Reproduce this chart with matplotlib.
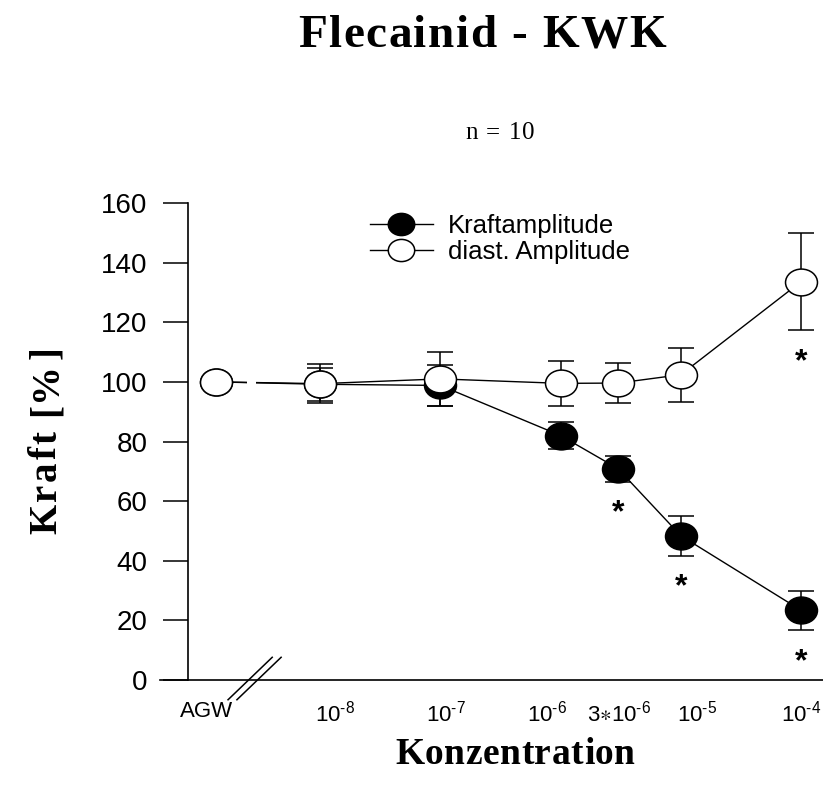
import numpy as np
import matplotlib
matplotlib.use('Agg')
import matplotlib.pyplot as plt
from matplotlib.path import Path
from matplotlib.transforms import Affine2D, ScaledTranslation
from matplotlib.lines import Line2D
from matplotlib.font_manager import FontProperties, findfont
from matplotlib.ft2font import FT2Font

plt.rcParams['mathtext.fontset'] = 'custom'
plt.rcParams['mathtext.rm'] = 'Liberation Sans'
plt.rcParams['mathtext.it'] = 'Liberation Sans:italic'
plt.rcParams['mathtext.bf'] = 'Liberation Sans:bold'

# ---------------- data ----------------
concentrations = [1e-8, 1e-7, 1e-6, 3e-6, 1e-5, 1e-4]
agw_position = -8.87          # position of control (AGW) on broken log axis
break_position = -8.57        # axis break position
tick_labels = ['AGW', r'$\mathregular{10^{\text{-}8}}$', r'$\mathregular{10^{\text{-}7}}$',
               r'$\mathregular{10^{\text{-}6}}$', r'$\mathregular{3{\ast}10^{\text{-}6}}$',
               r'$\mathregular{10^{\text{-}5}}$', r'$\mathregular{10^{\text{-}4}}$']
tick_label_nudge_px = [-9, 15, 6, -14, 1, 16, 0]

kraft = [100, 99.2, 98.8, 82.0, 70.9, 48.4, 23.4]
kraft_err = [0, 5.5, 6.8, 4.4, 4.4, 6.7, 6.6]
kraft_sig = [False, False, False, False, True, True, True]

diast = [100, 99.4, 101.0, 99.5, 99.6, 102.4, 133.6]
diast_err = [0, 6.6, 9.1, 7.5, 6.6, 9.1, 16.2]
diast_sig = [False, False, False, False, False, False, True]

legend_labels = ['Kraftamplitude', 'diast. Amplitude']
title = 'Flecainid - KWK'
subtitle = 'n = 10'
xlabel = 'Konzentration'
ylabel = 'Kraft [%]'

x = np.array([agw_position] + [np.log10(c) for c in concentrations])

W, H = 823, 790
fig = plt.figure(figsize=(W/100, H/100), dpi=100)


def tracked_text(s, x_px, y_px, size, track_px, family, weight='normal', rotation=0):
    """Draw text with extra letter spacing; (x_px, y_px) = centre of run, baseline."""
    fp = FontProperties(family=family, weight=weight, size=size)
    font = FT2Font(findfont(fp))
    font.set_size(size, fig.dpi)
    adv = [font.load_char(ord(c)).linearHoriAdvance / 65536.0 for c in s]
    total = sum(adv) + track_px * (len(s) - 1)
    pos = -total / 2
    for c, a in zip(s, adv):
        if c != ' ':
            if rotation == 0:
                fig.text((x_px + pos) / W, 1 - y_px / H, c, ha='left', va='baseline',
                         fontproperties=fp)
            else:
                fig.text(x_px / W, 1 - (y_px - pos) / H, c, ha='left', va='baseline',
                         rotation=90, rotation_mode='anchor', fontproperties=fp)
        pos += a + track_px


# ---------------- axes ----------------
ax = fig.add_axes([160/W, 1-680/H, 1-160/W, (680-203)/H])
ax.set_xlim(-9.333, -3.817)
ax.set_ylim(0, 160)

ellipse = Path(Affine2D().scale(1.0, 0.84).transform(Path.unit_circle().vertices),
               Path.unit_circle().codes)
ms = 23
mew = 1.1

# filled series
ax.plot(x, kraft, '-', color='black', lw=1.0, zorder=2)
ax.errorbar(x, kraft, yerr=kraft_err, fmt='none', ecolor='black', elinewidth=1.1,
            capsize=9.5, capthick=1.1, zorder=2.6)
ax.plot(x, kraft, linestyle='none', marker=ellipse, ms=ms, mfc='black', mec='black',
        mew=mew, zorder=3)

# open series
ax.plot(x, diast, '-', color='black', lw=1.0, zorder=3.1)
ax.errorbar(x, diast, yerr=diast_err, fmt='none', ecolor='black', elinewidth=1.1,
            capsize=9.5, capthick=1.1, zorder=3.2)
ax.plot(x, diast, linestyle='none', marker=ellipse, ms=ms, mfc='white', mec='black',
        mew=mew, zorder=3.3)

# gap in connecting lines at the axis break
ax.fill_between([break_position - 0.036, break_position + 0.036], 95, 105,
                color='white', lw=0, zorder=3.15)

# significance stars
star_off = ScaledTranslation(0, -40/100, fig.dpi_scale_trans)
for ys, es, sig in [(kraft, kraft_err, kraft_sig), (diast, diast_err, diast_sig)]:
    for xi, yi, ei, s in zip(x, ys, es, sig):
        if s:
            ax.text(xi, yi - ei, '*', ha='center', va='baseline', fontsize=23,
                    fontweight='bold', family='Liberation Sans',
                    transform=ax.transData + star_off)

# axis break marks
brk = Path([(-25.3, -20), (20.5, 24), (-16.3, -20), (29.5, 24)],
           [Path.MOVETO, Path.LINETO, Path.MOVETO, Path.LINETO])
ax.plot([break_position], [0], linestyle='none', marker=brk, ms=42, mec='black',
        mew=1.1, clip_on=False, zorder=5)

# spines / ticks
for sp in ['top', 'right']:
    ax.spines[sp].set_visible(False)
ax.spines['left'].set_position(('data', -9.1))
ax.spines['left'].set_bounds(0, 160)
ax.spines['left'].set_linewidth(1.2)
ax.spines['bottom'].set_linewidth(1.2)

ax.set_yticks(np.arange(0, 161, 20))
ax.tick_params(axis='y', direction='out', length=18, width=1.1, pad=11,
               labelsize=20)
for lab in ax.get_yticklabels():
    lab.set_family('Liberation Sans')

ax.set_xticks(x)
ax.set_xticklabels(tick_labels)
ax.tick_params(axis='x', length=0, pad=15, labelsize=16)
for lab, dx in zip(ax.get_xticklabels(), tick_label_nudge_px):
    lab.set_family('Liberation Sans')
    lab.set_transform(lab.get_transform() + ScaledTranslation(dx/100, 0, fig.dpi_scale_trans))

# legend
handles = [Line2D([], [], color='black', lw=1.0, marker=ellipse, ms=19, mfc='black',
                  mec='black', mew=mew),
           Line2D([], [], color='black', lw=1.0, marker=ellipse, ms=19, mfc='white',
                  mec='black', mew=mew)]
fig.legend(handles, legend_labels, loc='center left',
           bbox_to_anchor=(370/W, 1-239/H), frameon=False,
           prop={'family': 'Liberation Sans', 'size': 18.5},
           handlelength=2.45, handletextpad=0.58, labelspacing=0.1,
           borderpad=0, borderaxespad=0)

# texts
tracked_text(title, 482, 47, 34, 1.5, 'Liberation Serif', 'bold')
tracked_text(subtitle, 500, 139, 18, 1.0, 'Liberation Serif')
tracked_text(xlabel, 515, 764, 27, 0.5, 'Liberation Serif', 'bold')
tracked_text(ylabel, 56, 440, 28, 2.5, 'Liberation Serif', 'bold', rotation=90)

fig.savefig('out.png', dpi=100)
